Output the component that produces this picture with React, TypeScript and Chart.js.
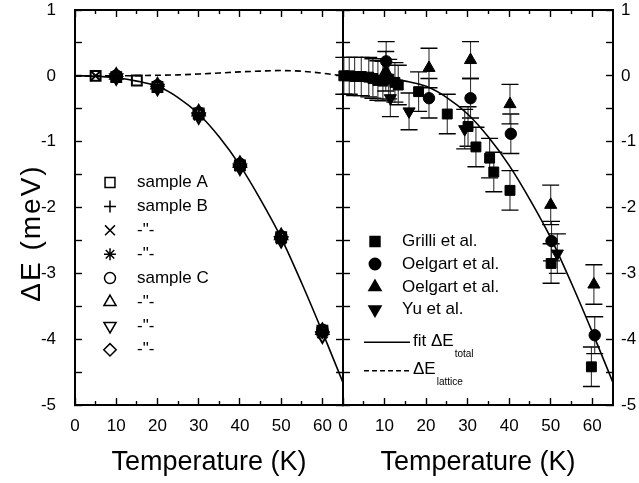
import React, { useEffect, useRef } from 'react';
import { Chart, registerables } from 'chart.js';
import { drawPoint } from 'chart.js/helpers';

Chart.register(...registerables);

const FONT_FAMILY = "'Liberation Sans', Arial, Helvetica, sans-serif";

// ---- tick values ----
const xLabelTicks = [0, 10, 20, 30, 40, 50, 60];
const xMinorTicks = [5, 15, 25, 35, 45, 55];
const yTickValues = [1, 0.5, 0, -0.5, -1, -1.5, -2, -2.5, -3, -3.5, -4, -4.5, -5];
const yLabelValues = [1, 0, -1, -2, -3, -4, -5];

// ---- fit curves ----
const fitT = [0, 5, 10, 15, 20, 25, 30, 35, 40, 45, 50, 55, 60, 65];
const fitTotal = [0, -0.005, -0.03, -0.08, -0.16, -0.33, -0.58, -0.93, -1.36, -1.88, -2.46, -3.15, -3.89, -4.66];
const latticeT = [0, 5, 10, 15, 20, 25, 30, 35, 40, 45, 50, 55, 60, 62.5, 65];
const latticeE = [0, 0, 0, 0.003, 0.008, 0.015, 0.028, 0.043, 0.06, 0.072, 0.08, 0.07, 0.04, 0.02, 0];

// ---- left panel: samples ----
const sampleA_T = [5, 10, 15, 20, 30, 40, 50, 60];
const sampleA_E = [0.0, -0.02, -0.07, -0.17, -0.57, -1.36, -2.45, -3.87];
const sampleB_T = [10, 20, 30, 40, 50, 60];
const sampleB_E = [-0.01, -0.16, -0.58, -1.38, -2.47, -3.89];
const sampleB2_T = [5, 10, 20, 30, 40, 50, 60];
const sampleB2_E = [0.0, -0.02, -0.18, -0.6, -1.37, -2.48, -3.91];
const sampleB3_T = [10, 20, 30, 40, 50, 60];
const sampleB3_E = [-0.02, -0.17, -0.59, -1.36, -2.46, -3.88];
const sampleC_T = [10, 20, 30, 40, 50, 60];
const sampleC_E = [0.0, -0.15, -0.56, -1.34, -2.44, -3.86];
const sampleC2_T = [10, 20, 30, 40, 50, 60];
const sampleC2_E = [0.01, -0.14, -0.55, -1.33, -2.43, -3.87];
const sampleC3_T = [10, 20, 30, 40, 50, 60];
const sampleC3_E = [-0.03, -0.19, -0.62, -1.4, -2.5, -3.95];
const sampleC4_T = [10, 20, 30, 40, 50, 60];
const sampleC4_E = [-0.01, -0.16, -0.58, -1.37, -2.46, -3.89];

// ---- right panel: literature ----
const grilliT = [0.2, 1.5, 2.8, 4.4, 6.2, 7.2, 8.4, 9.6, 11, 12.5, 13.3, 18.2, 25.1, 30.1, 32, 35.3, 36.3, 40.2, 50.1, 59.8];
const grilliE = [0.0, 0.0, -0.01, -0.01, -0.02, -0.04, -0.07, -0.08, -0.05, -0.1, -0.14, -0.24, -0.58, -0.77, -1.08, -1.25, -1.46, -1.74, -2.85, -4.42];
const grilliErr = [0.28, 0.28, 0.29, 0.29, 0.3, 0.3, 0.3, 0.3, 0.3, 0.3, 0.3, 0.3, 0.3, 0.3, 0.3, 0.3, 0.3, 0.3, 0.3, 0.3];
const oelgart1T = [10.4, 20.7, 30.7, 40.4, 50.2, 60.6];
const oelgart1E = [0.22, -0.34, -0.34, -0.88, -2.51, -3.94];
const oelgart1Err = [0.3, 0.3, 0.3, 0.3, 0.3, 0.28];
const oelgart2T = [10.3, 20.7, 30.7, 40.2, 50.0, 60.4];
const oelgart2E = [0.07, 0.12, 0.24, -0.43, -1.96, -3.17];
const oelgart2Err = [0.3, 0.3, 0.28, 0.3, 0.3, 0.3];
const yuT = [11.4, 15.9, 29.3, 51.6];
const yuE = [-0.34, -0.54, -0.81, -2.7];
const yuErr = [0.28, 0.28, 0.3, 0.3];

const pts = (t: number[], e: number[]) => t.map((x, i) => ({ x, y: e[i] }));

Chart.defaults.font.family = FONT_FAMILY;

function axis(position: string, o: any) {
  const horizontal = position === 'bottom' || position === 'top';
  return {
    type: 'linear',
    position,
    min: o.min,
    max: o.max,
    weight: o.weight || 0,
    border: { display: !!o.border, width: 2, color: '#000' },
    grid: {
      drawOnChartArea: false,
      drawTicks: true,
      tickLength: -o.tickLen,
      tickWidth: 1.4,
      tickColor: '#000',
    },
    ticks: {
      display: !!o.labels,
      padding: o.padding || 0,
      color: '#000',
      font: { family: FONT_FAMILY, size: 17 },
      autoSkip: false,
      maxRotation: 0,
      minRotation: 0,
      callback: (v: number) => (o.labels && o.labels.includes(v) ? String(v) : ''),
    },
    title: o.title
      ? {
          display: true,
          text: o.title,
          color: '#000',
          font: { family: FONT_FAMILY, size: 27 },
          padding: { top: 0, bottom: 4 },
        }
      : { display: false },
    afterBuildTicks: (s: any) => {
      s.ticks = o.tickVals.map((v: number) => ({ value: v }));
    },
    afterFit: (s: any) => {
      if (horizontal) s.height = o.size;
      else s.width = o.size;
      s.paddingLeft = 0;
      s.paddingRight = 0;
      s.paddingTop = 0;
      s.paddingBottom = 0;
    },
  };
}

function scalesFor(leftSize: number, rightSize: number, leftLabels: boolean, rightLabels: boolean) {
  return {
    x: axis('bottom', { min: 0, max: 65, weight: 10, border: true, tickLen: 7, tickVals: xLabelTicks, labels: xLabelTicks, padding: 18, size: 78, title: 'Temperature (K)' }),
    xm: axis('bottom', { min: 0, max: 65, weight: 0, border: false, tickLen: 4, tickVals: xMinorTicks, size: 0 }),
    xt: axis('top', { min: 0, max: 65, weight: 10, border: true, tickLen: 7, tickVals: xLabelTicks, size: 10 }),
    xtm: axis('top', { min: 0, max: 65, weight: 0, border: false, tickLen: 4, tickVals: xMinorTicks, size: 0 }),
    y: axis('left', { min: -5, max: 1, border: true, tickLen: 7, tickVals: yTickValues, labels: leftLabels ? yLabelValues : null, padding: 26, size: leftSize }),
    y2: axis('right', { min: -5, max: 1, border: true, tickLen: 7, tickVals: yTickValues, labels: rightLabels ? yLabelValues : null, padding: 15, size: rightSize }),
  };
}

const errorBarPlugin = {
  id: 'errorBars',
  beforeDatasetsDraw(chart: any) {
    const ctx = chart.ctx;
    const xs = chart.scales.x;
    const ys = chart.scales.y;
    ctx.save();
    chart.data.datasets.forEach((ds: any) => {
      if (!ds.errors) return;
      ds.data.forEach((p: any, j: number) => {
        const px = xs.getPixelForValue(p.x);
        const top = ys.getPixelForValue(p.y + ds.errors[j]);
        const bot = ys.getPixelForValue(p.y - ds.errors[j]);
        ctx.strokeStyle = '#333';
        ctx.lineWidth = 1.1;
        ctx.beginPath();
        ctx.moveTo(px, top);
        ctx.lineTo(px, bot);
        ctx.stroke();
        ctx.strokeStyle = '#000';
        ctx.lineWidth = 1.4;
        ctx.beginPath();
        ctx.moveTo(px - 8.5, top);
        ctx.lineTo(px + 8.5, top);
        ctx.moveTo(px - 8.5, bot);
        ctx.lineTo(px + 8.5, bot);
        ctx.stroke();
      });
    });
    ctx.restore();
  },
};

function markerLegendPlugin(id: string, offsetX: number, items: any[], lineItems: any[]) {
  return {
    id,
    afterDatasetsDraw(chart: any) {
      const ctx = chart.ctx;
      ctx.save();
      ctx.font = `17px ${FONT_FAMILY}`;
      ctx.textBaseline = 'middle';
      ctx.textAlign = 'left';
      items.forEach((it) => {
        ctx.fillStyle = it.filled ? '#000' : 'rgba(0,0,0,0)';
        ctx.strokeStyle = '#000';
        ctx.lineWidth = 1.5;
        drawPoint(ctx, { pointStyle: it.style, rotation: it.rotation || 0, radius: it.radius, borderWidth: 1.5 }, it.sx - offsetX, it.y);
        ctx.fillStyle = '#000';
        ctx.fillText(it.label, it.tx - offsetX, it.y);
      });
      lineItems.forEach((it) => {
        ctx.strokeStyle = '#000';
        ctx.lineWidth = 1.5;
        ctx.setLineDash(it.dash);
        ctx.beginPath();
        ctx.moveTo(it.x1 - offsetX, it.ly);
        ctx.lineTo(it.x2 - offsetX, it.ly);
        ctx.stroke();
        ctx.setLineDash([]);
        ctx.fillStyle = '#000';
        ctx.textBaseline = 'alphabetic';
        ctx.font = `17px ${FONT_FAMILY}`;
        ctx.fillText(it.label, it.tx - offsetX, it.base);
        const w = ctx.measureText(it.label).width;
        ctx.font = `10px ${FONT_FAMILY}`;
        ctx.fillText(it.sub, it.tx - offsetX + w + 1, it.base + 11);
      });
      ctx.restore();
    },
  };
}

const yTitlePlugin = {
  id: 'yTitle',
  afterDraw(chart: any) {
    const ctx = chart.ctx;
    ctx.save();
    ctx.translate(32, 233);
    ctx.rotate(-Math.PI / 2);
    ctx.font = `28px ${FONT_FAMILY}`;
    try {
      (ctx as any).letterSpacing = '2px';
    } catch (e) {
      /* ignore */
    }
    ctx.textAlign = 'center';
    ctx.textBaseline = 'middle';
    ctx.fillStyle = '#000';
    ctx.fillText('ΔE (meV)', 0, 0);
    ctx.restore();
  },
};

const openPoint = (style: string, radius: number, rotation = 0) => ({
  pointStyle: style,
  pointRadius: radius,
  pointRotation: rotation,
  pointBorderWidth: 2,
  pointBorderColor: '#000',
  pointBackgroundColor: 'rgba(0,0,0,0)',
  borderColor: '#000',
  backgroundColor: 'rgba(0,0,0,0)',
  showLine: false,
  clip: false,
  xAxisID: 'x',
  yAxisID: 'y',
});

const filledPoint = (style: string, radius: number, rotation = 0) => ({
  pointStyle: style,
  pointRadius: radius,
  pointRotation: rotation,
  pointBorderWidth: 1,
  pointBorderColor: '#000',
  pointBackgroundColor: '#000',
  borderColor: '#000',
  backgroundColor: '#000',
  showLine: false,
  clip: false,
  xAxisID: 'x',
  yAxisID: 'y',
});

function leftConfig(): any {
  const rows = [182.5, 206.4, 230.3, 254.2, 278.1, 302, 325.9, 349.8];
  const legendItems = [
    { style: 'rect', radius: 7, label: 'sample A' },
    { style: 'cross', radius: 6, label: 'sample B' },
    { style: 'crossRot', radius: 7, label: '-"-' },
    { style: 'star', radius: 6, label: '-"-' },
    { style: 'circle', radius: 5.5, label: 'sample C' },
    { style: 'triangle', radius: 7, label: '-"-' },
    { style: 'triangle', radius: 7, rotation: 180, label: '-"-' },
    { style: 'rectRot', radius: 6.2, label: '-"-' },
  ].map((it, i) => ({ ...it, sx: 110, tx: 137, y: rows[i] }));

  return {
    type: 'scatter',
    data: {
      datasets: [
        { data: pts(latticeT, latticeE), showLine: true, borderColor: '#000', borderWidth: 1.6, borderDash: [6, 4], pointRadius: 0, cubicInterpolationMode: 'monotone', xAxisID: 'x', yAxisID: 'y' },
        { data: pts(fitT, fitTotal), showLine: true, borderColor: '#000', borderWidth: 1.6, pointRadius: 0, cubicInterpolationMode: 'monotone', xAxisID: 'x', yAxisID: 'y' },
        { data: pts(sampleA_T, sampleA_E), ...openPoint('rect', 7) },
        { data: pts(sampleB_T, sampleB_E), ...openPoint('cross', 6) },
        { data: pts(sampleB2_T, sampleB2_E), ...openPoint('crossRot', 7) },
        { data: pts(sampleB3_T, sampleB3_E), ...openPoint('star', 6) },
        { data: pts(sampleC_T, sampleC_E), ...openPoint('circle', 5.5) },
        { data: pts(sampleC2_T, sampleC2_E), ...openPoint('triangle', 7) },
        { data: pts(sampleC3_T, sampleC3_E), ...openPoint('triangle', 7, 180) },
        { data: pts(sampleC4_T, sampleC4_E), ...openPoint('rectRot', 6.2) },
      ],
    },
    options: {
      animation: false,
      responsive: false,
      maintainAspectRatio: false,
      events: [],
      layout: { padding: 0 },
      plugins: { legend: { display: false }, tooltip: { enabled: false }, title: { display: false } },
      scales: scalesFor(75, 9, true, false),
    },
    plugins: [markerLegendPlugin('leftLegend', 0, legendItems, []), yTitlePlugin],
  };
}

function rightConfig(): any {
  const OFF = 300;
  const rows = [241.5, 264, 287, 309.5];
  const legendItems = [
    { style: 'rect', radius: 7, label: 'Grilli et al.', filled: true },
    { style: 'circle', radius: 5.7, label: 'Oelgart et al.', filled: true },
    { style: 'triangle', radius: 7, label: 'Oelgart et al.', filled: true },
    { style: 'triangle', radius: 7, rotation: 180, label: 'Yu et al.', filled: true },
  ].map((it, i) => ({ ...it, sx: 375, tx: 402, y: rows[i] }));
  const lineItems = [
    { dash: [], x1: 364, x2: 410, ly: 342.3, tx: 413, base: 346, label: 'fit ΔE', sub: 'total' },
    { dash: [5, 3], x1: 364, x2: 410, ly: 370.7, tx: 413, base: 373.5, label: 'ΔE', sub: 'lattice' },
  ];
  return {
    type: 'scatter',
    data: {
      datasets: [
        { data: pts(fitT, fitTotal), showLine: true, borderColor: '#000', borderWidth: 1.6, pointRadius: 0, cubicInterpolationMode: 'monotone', xAxisID: 'x', yAxisID: 'y' },
        { data: pts(grilliT, grilliE), errors: grilliErr, ...filledPoint('rect', 7) },
        { data: pts(oelgart1T, oelgart1E), errors: oelgart1Err, ...filledPoint('circle', 5.7) },
        { data: pts(oelgart2T, oelgart2E), errors: oelgart2Err, ...filledPoint('triangle', 7) },
        { data: pts(yuT, yuE), errors: yuErr, ...filledPoint('triangle', 7, 180) },
      ],
    },
    options: {
      animation: false,
      responsive: false,
      maintainAspectRatio: false,
      events: [],
      layout: { padding: 0 },
      plugins: { legend: { display: false }, tooltip: { enabled: false }, title: { display: false } },
      scales: scalesFor(43, 26, false, true),
    },
    plugins: [errorBarPlugin, markerLegendPlugin('rightLegend', OFF, legendItems, lineItems)],
  };
}

export default function App() {
  const leftRef = useRef<HTMLCanvasElement | null>(null);
  const rightRef = useRef<HTMLCanvasElement | null>(null);

  useEffect(() => {
    const l = new Chart(leftRef.current as HTMLCanvasElement, leftConfig());
    const r = new Chart(rightRef.current as HTMLCanvasElement, rightConfig());
    return () => {
      l.destroy();
      r.destroy();
    };
  }, []);

  return (
    <div style={{ position: 'absolute', left: 0, top: 0, width: 639, height: 483, background: '#fff', overflow: 'hidden' }}>
      <canvas ref={leftRef} width={352} height={483} style={{ position: 'absolute', left: 0, top: 0, width: 352, height: 483 }} />
      <canvas ref={rightRef} width={339} height={483} style={{ position: 'absolute', left: 300, top: 0, width: 339, height: 483 }} />
    </div>
  );
}
